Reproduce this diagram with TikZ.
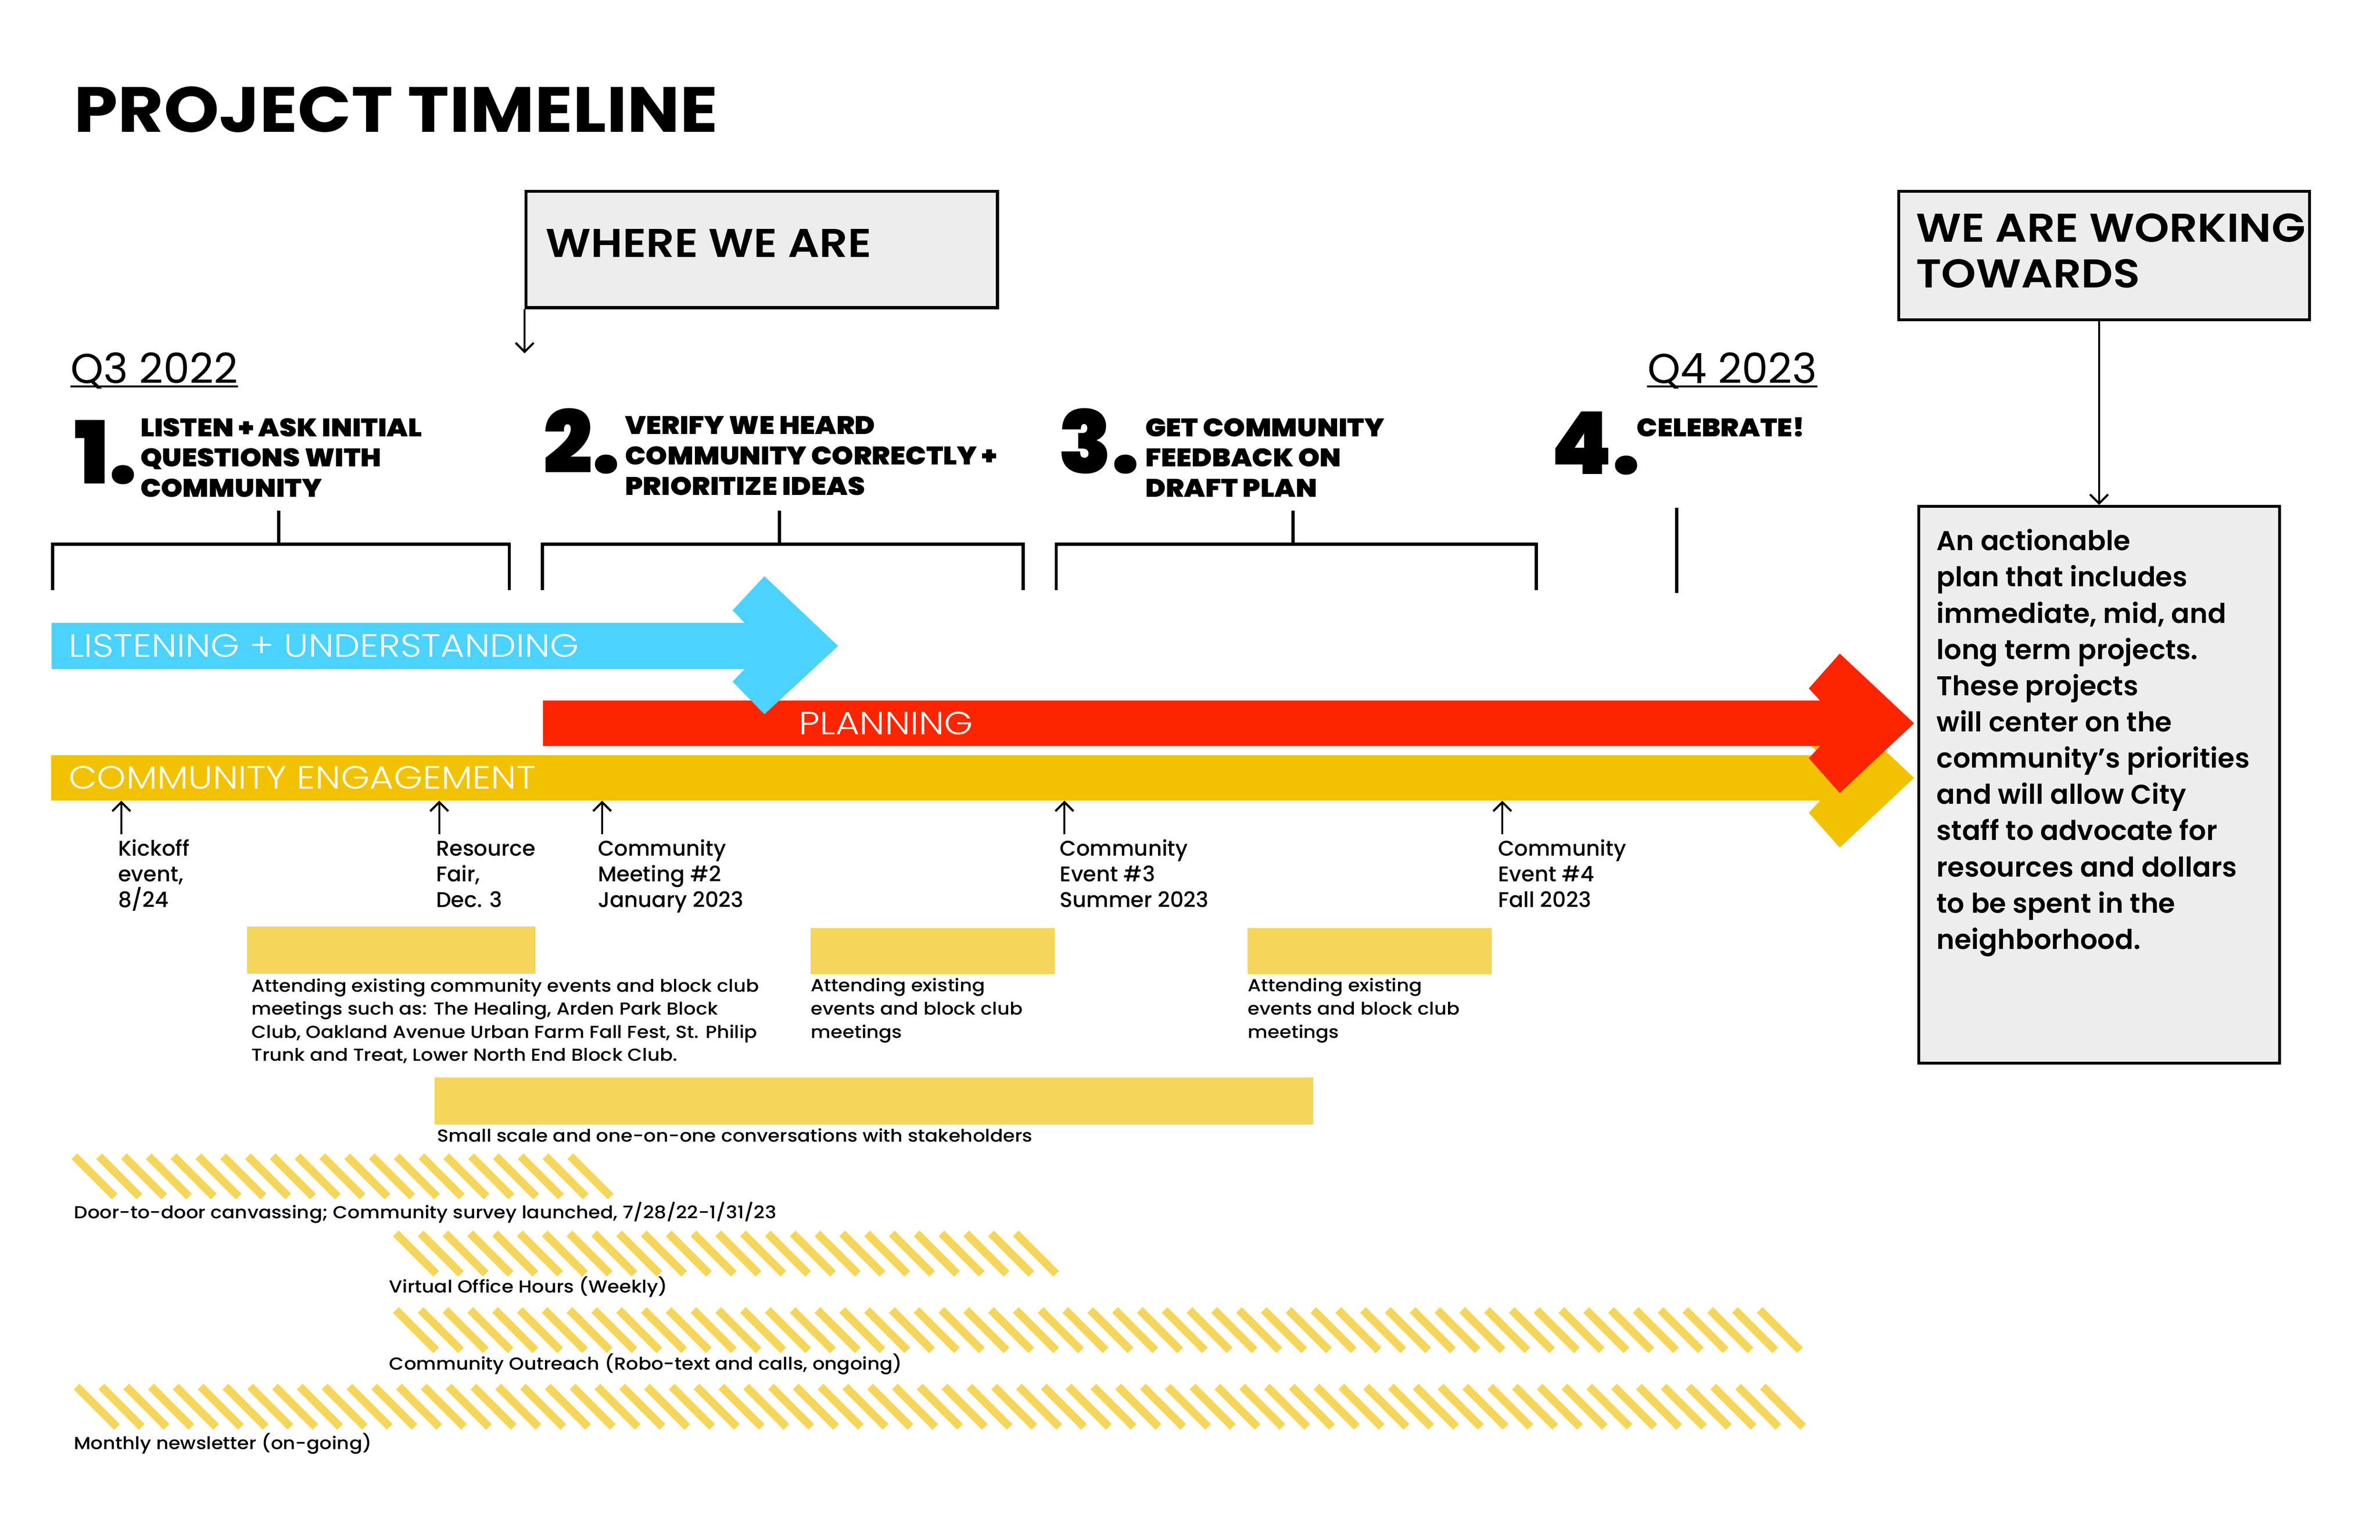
\documentclass[tikz,border=0pt]{standalone}
\usepackage{fontspec}
\setmainfont{Poppins}
\newfontfamily\titlefont{Poppins Bold}[FakeStretch=1.1]
\newfontfamily\heavyfont{Poppins Black}
\newfontfamily\heavywide{Poppins Black}[FakeStretch=1.08]
\newfontfamily\semifont{Poppins SemiBold}
\newfontfamily\semiwide{Poppins SemiBold}[FakeStretch=1.1]
\newfontfamily\medfont{Poppins Medium}
\newfontfamily\medwide{Poppins Medium}[FakeStretch=1.1]
\newfontfamily\lightfont{Poppins Light}[FakeStretch=1.15]
\usepackage{tikz}
\usetikzlibrary{arrows.meta}
\definecolor{skyblue}{HTML}{4BD2FF}
\definecolor{planred}{HTML}{FF2400}
\definecolor{gold}{HTML}{F2C200}
\definecolor{palegold}{HTML}{F5D65A}
\definecolor{boxgray}{HTML}{EDEDED}
\tikzstyle{graybox} = [draw=black, fill=boxgray, line width=1.8pt,
    rectangle, anchor=north west, inner sep=0]
\tikzstyle{boxtitle} = [font=\semiwide\fontsize{24.5}{27.8}\selectfont,
    anchor=base west, inner sep=0, align=left]
\tikzstyle{quarter} = [font=\fontsize{25.5}{28}\selectfont, anchor=base west, inner sep=0]
\tikzstyle{stepnum} = [font=\heavyfont\fontsize{53}{56}\selectfont, anchor=base west, inner sep=0]
\tikzstyle{steptext} = [font=\heavywide\fontsize{15.5}{18.5}\selectfont,
    anchor=base west, inner sep=0, align=left]
\tikzstyle{barlabel} = [font=\lightfont\fontsize{19.6}{22}\selectfont, text=white,
    anchor=base west, inner sep=0]
\tikzstyle{evtext} = [font=\medfont\fontsize{13}{15.7}\selectfont,
    anchor=base west, inner sep=0, align=left]
\tikzstyle{smalltext} = [font=\medwide\fontsize{10.6}{14.1}\selectfont,
    anchor=base west, inner sep=0, align=left]
\tikzstyle{bracket} = [line width=2pt]
\tikzstyle{pointer} = [line width=1.3pt, -{Straight Barb[length=5.5pt,width=11pt]}]
\tikzstyle{hatch} = [draw=palegold, line width=4.9pt]

\begin{document}
\begin{tikzpicture}[x=0.0325cm, y=-0.0325cm]
\useasboundingbox (0,0) rectangle (1569.2,1015.4);

\node[font=\titlefont\fontsize{39}{42}\selectfont, anchor=base west, inner sep=0] (title)
    at (48.6,87) {PROJECT TIMELINE};

% boxes on top
\node[graybox, minimum width=10.1cm, minimum height=2.49cm] (where) at (345.9,125.3) {};
\node[boxtitle] (whereText) at (359.7,169.5) {WHERE WE ARE};
\coordinate (now) at (345.9,233);
\draw[pointer] (where.south west) -- (now);

\node[graybox, minimum width=8.8cm, minimum height=2.75cm] (work) at (1251,125.3) {};
\node[boxtitle] (workText) at (1263,189.6) {WE ARE WORKING\\TOWARDS};

\node[graybox, minimum width=7.735cm, minimum height=11.93cm] (plan) at (1264,333) {};
\node[font=\semifont\fontsize{16.6}{22.1}\selectfont, anchor=base west, inner sep=0,
    align=left] (planText) at (1276.7,625.9) {An actionable\\plan that includes\\immediate, mid, and\\long term projects.\\These projects\\will center on the\\community’s priorities\\and will allow City\\staff to advocate for\\resources and dollars\\to be spent in the\\neighborhood.};
\draw[pointer] (work.south -| plan.north) -- (plan.north);

% quarters
\node[quarter] (q3) at (46.4,252.8) {Q3 2022};
\node[quarter] (q4) at (1086,252.8) {Q4 2023};
\draw[line width=1.3pt] ([yshift=-1.9pt]q3.base west) -- ([yshift=-1.9pt]q3.base east);
\draw[line width=1.3pt] ([yshift=-1.9pt]q4.base west) -- ([yshift=-1.9pt]q4.base east);

% steps
\node[stepnum] (n1) at (49,319) {1.};
\node[steptext] (s1) at (92.4,327.8) {LISTEN + ASK INITIAL\\QUESTIONS WITH\\COMMUNITY};
\node[stepnum] (n2) at (358,312) {2.};
\node[steptext] (s2) at (412,326.5) {VERIFY WE HEARD\\COMMUNITY CORRECTLY +\\PRIORITIZE IDEAS};
\node[stepnum] (n3) at (697.5,312) {3.};
\node[steptext] (s3) at (755,327.8) {GET COMMUNITY\\FEEDBACK ON\\DRAFT PLAN};
\node[stepnum] (n4) at (1022.5,312.6) {4.};
\node[steptext] (s4) at (1079,287.8) {CELEBRATE!};

% brackets
\draw[bracket] (34.7,389) |- (335.8,358.8) -- (335.8,389);
\draw[bracket] (183.7,358.8) -- (183.7,336.6);
\draw[bracket] (357.7,389) |- (674.6,358.8) -- (674.6,389);
\draw[bracket] (513.8,358.8) -- (513.8,336.6);
\draw[bracket] (696.4,389) |- (1013,358.8) -- (1013,389);
\draw[bracket] (852.6,358.8) -- (852.6,336.6);
\draw[bracket] (1105.6,335) -- (1105.6,391);

% bars
\fill[gold] (33.7,498) -- (1200,498) -- (1192.6,490) -- (1213,467) -- (1262,513)
    -- (1213,559) -- (1192.6,536) -- (1200,528) -- (33.7,528) -- cycle;
\fill[planred] (358,462) -- (1200,462) -- (1192.6,454) -- (1213,431) -- (1262,477)
    -- (1213,523) -- (1192.6,500) -- (1200,492) -- (358,492) -- cycle;
\fill[skyblue] (34,410.8) -- (491,410.8) -- (483,402.5) -- (504,380) -- (552.6,426)
    -- (504,471) -- (483,449.5) -- (491,441.2) -- (34,441.2) -- cycle;
\node[barlabel] (listen) at (45,433.3) {LISTENING + UNDERSTANDING};
\node[barlabel] (planning) at (526.6,484.3) {PLANNING};
\node[barlabel] (engage) at (45,520.3) {COMMUNITY ENGAGEMENT};

% events
\coordinate (barEdge) at (0,528);
\node[evtext] (kick) at (77.7,598.4) {Kickoff\\event,\\8/24};
\node[evtext] (fair) at (287.3,598.4) {Resource\\Fair,\\Dec. 3};
\node[evtext] (meet2) at (394,598.4) {Community\\Meeting \#2\\January 2023};
\node[evtext] (ev3) at (698.6,598.4) {Community\\Event \#3\\Summer 2023};
\node[evtext] (ev4) at (987.5,598.4) {Community\\Event \#4\\Fall 2023};
\foreach \x/\n in {80/a, 289.6/b, 397/c, 701.8/d, 990.5/e} {
  \coordinate (tick\n) at (\x,550);
  \draw[pointer] (tick\n) -- (tick\n |- barEdge);
}

% attending blocks
\fill[palegold] (163,611) rectangle (353,642);
\node[smalltext] (attendA) at (165.6,699.8) {Attending existing community events and block club\\meetings such as: The Healing, Arden Park Block\\Club, Oakland Avenue Urban Farm Fall Fest, St. Philip\\Trunk and Treat, Lower North End Block Club.};
\fill[palegold] (534.5,612) rectangle (695.4,642.5);
\node[smalltext] (attendB) at (534.5,684.5) {Attending existing\\events and block club\\meetings};
\fill[palegold] (822.6,612) rectangle (983.5,642.5);
\node[smalltext] (attendC) at (822.6,684.5) {Attending existing\\events and block club\\meetings};
\fill[palegold] (286.5,710.5) rectangle (865.8,741.5);
\node[smalltext] (talks) at (288,753) {Small scale and one-on-one conversations with stakeholders};

% hatched bars
\foreach \i in {0,...,20}
  \draw[hatch] ({49+16.35*\i},762.5) -- ++(26.6,26.6);
\node[smalltext] (door) at (48.6,803.5) {Door-to-door canvassing; Community survey launched, 7/28/22-1/31/23};
\foreach \i in {0,...,25}
  \draw[hatch] ({261+16.35*\i},813.4) -- ++(26.6,26.6);
\node[smalltext] (office) at (256.5,852.6) {Virtual Office Hours (Weekly)};
\foreach \i in {0,...,55}
  \draw[hatch] ({261+16.35*\i},863.9) -- ++(26.6,26.6);
\node[smalltext] (outreach) at (256.5,903.4) {Community Outreach (Robo-text and calls, ongoing)};
\foreach \i in {0,...,68}
  \draw[hatch] ({50.5+16.35*\i},914.4) -- ++(26.6,26.6);
\node[smalltext] (news) at (48.6,955.7) {Monthly newsletter (on-going)};
\end{tikzpicture}
\end{document}
